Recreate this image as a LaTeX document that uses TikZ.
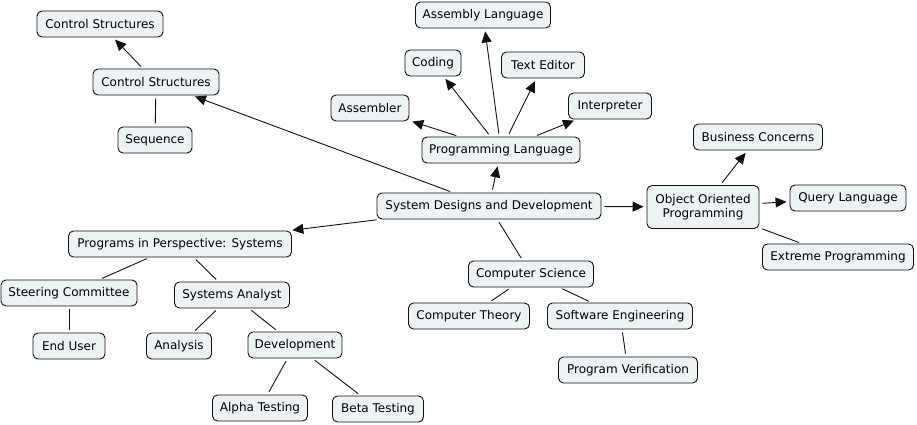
\documentclass[tikz,border=0pt]{standalone}
\usepackage{fontspec}
\setmainfont{DejaVu Sans}
\usetikzlibrary{arrows.meta}
\definecolor{boxfill}{HTML}{EDF3F5}
\definecolor{ink}{HTML}{111111}
\tikzset{
  box/.style={draw=ink, fill=boxfill, rounded corners=5pt, line width=0.9pt,
    minimum height=26pt, inner xsep=2pt, inner ysep=2pt, text=black,
    font=\fontsize{12}{14.5}\selectfont, align=center},
  link/.style={draw=ink, line width=0.9pt, shorten <=3pt, shorten >=3pt},
  arr/.style={link, -{Triangle[length=11pt,width=10pt]}},
}
\begin{document}
\begin{tikzpicture}[x=1pt,y=-1pt]
\useasboundingbox (0,0) rectangle (917,425);
\node[box, minimum width=126] (cs1) at (100,24) {Control Structures};
\node[box, minimum width=126] (cs2) at (156,82) {Control Structures};
\node[box, minimum width=74] (seq) at (155,140) {Sequence};
\node[box, minimum width=135] (asl) at (483,15) {Assembly Language};
\node[box, minimum width=56] (cod) at (433,63) {Coding};
\node[box, minimum width=83] (ted) at (543,65) {Text Editor};
\node[box, minimum width=78] (asm) at (370,108) {Assembler};
\node[box, minimum width=83] (int) at (610,106) {Interpreter};
\node[box, minimum width=158] (pl) at (501,150) {Programming Language};
\node[box, minimum width=224] (sdd) at (489,206) {System Designs and Development};
\node[box, minimum width=112, minimum height=43] (oop) at (703,207) {Object Oriented\\Programming};
\node[box, minimum width=129] (bc) at (758,137) {Business Concerns};
\node[box, minimum width=116] (ql) at (848,198) {Query Language};
\node[box, minimum width=151] (xp) at (838,257) {Extreme Programming};
\node[box, minimum width=223] (pp) at (180,244) {Programs in Perspective: Systems};
\node[box, minimum width=136] (sc) at (69,293) {Steering Committee};
\node[box, minimum width=115] (sa) at (232,295) {Systems Analyst};
\node[box, minimum width=72] (eu) at (69,346) {End User};
\node[box, minimum width=65] (an) at (179,346) {Analysis};
\node[box, minimum width=94] (dev) at (295,345) {Development};
\node[box, minimum width=95] (alp) at (260,408) {Alpha Testing};
\node[box, minimum width=91] (bet) at (378,409) {Beta Testing};
\node[box, minimum width=125] (csc) at (531,274) {Computer Science};
\node[box, minimum width=121] (ct) at (469,316) {Computer Theory};
\node[box, minimum width=145] (se) at (620,316) {Software Engineering};
\node[box, minimum width=139] (pv) at (628,370) {Program Verification};

\draw[arr] (cs2) -- (cs1);
\draw[link] (cs2) -- (seq);
\draw[arr] (sdd) -- (cs2);
\draw[arr] (sdd) -- (pl);
\draw[arr] (pl) -- (asl);
\draw[arr] (pl) -- (cod);
\draw[arr] (pl) -- (ted);
\draw[arr] (pl) -- (asm);
\draw[arr] (pl) -- (int);
\draw[arr] (sdd) -- (oop);
\draw[arr] (oop) -- (bc);
\draw[arr] (oop) -- (ql);
\draw[link] (oop) -- (xp);
\draw[arr] (sdd) -- (pp);
\draw[link] (pp) -- (sc);
\draw[link] (pp) -- (sa);
\draw[link] (sc) -- (eu);
\draw[link] (sa) -- (an);
\draw[link] (sa) -- (dev);
\draw[link] (dev) -- (alp);
\draw[link] (dev) -- (bet);
\draw[link] (sdd) -- (csc);
\draw[link] (csc) -- (ct);
\draw[link] (csc) -- (se);
\draw[link] (se) -- (pv);
\end{tikzpicture}
\end{document}
